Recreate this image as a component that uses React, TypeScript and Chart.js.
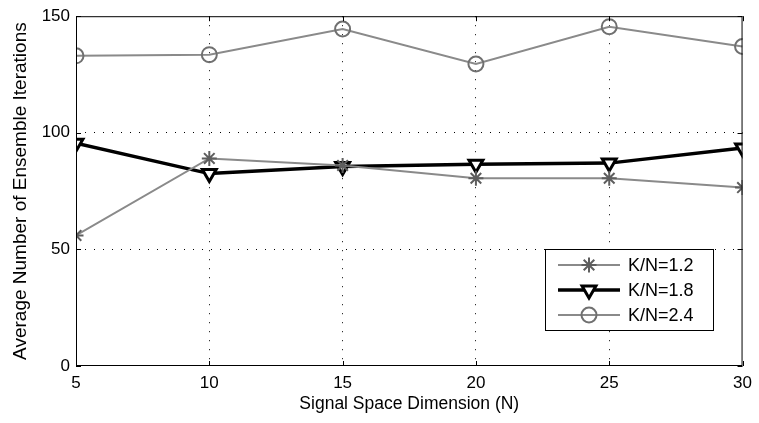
import React, { useEffect, useRef } from "react";
import { Chart, registerables } from "chart.js";
import { drawPoint } from "chart.js/helpers";

Chart.register(...registerables);

const xValues = [5, 10, 15, 20, 25, 30];
const seriesLabels = ["K/N=1.2", "K/N=1.8", "K/N=2.4"];
const kn12 = [56, 89, 86, 80.5, 80.5, 76.5];
const kn18 = [95.5, 82.5, 85.5, 86.5, 87, 93.5];
const kn24 = [133, 133.5, 144.5, 129.5, 145.5, 137];
const yTicks = [0, 50, 100, 150];
const xTitle = "Signal Space Dimension (N)";
const yTitle = "Average Number of Ensemble Iterations";

const FONT = "'Liberation Sans', Arial, sans-serif";

const boxPlugin = {
  id: "matlabBox",
  afterDraw(chart: any) {
    const { ctx, chartArea: a, scales } = chart;
    ctx.save();
    ctx.strokeStyle = "#000";
    ctx.lineWidth = 1;
    ctx.strokeRect(a.left + 0.5, a.top + 0.5, a.right - a.left - 1, a.bottom - a.top - 1);
    const tl = 5;
    ctx.beginPath();
    scales.x.ticks.forEach((t: any) => {
      const px = Math.round(scales.x.getPixelForValue(t.value)) + 0.5;
      ctx.moveTo(px, a.bottom);
      ctx.lineTo(px, a.bottom - tl);
      ctx.moveTo(px, a.top);
      ctx.lineTo(px, a.top + tl);
    });
    scales.y.ticks.forEach((t: any) => {
      const py = Math.round(scales.y.getPixelForValue(t.value)) + 0.5;
      ctx.moveTo(a.left, py);
      ctx.lineTo(a.left + tl, py);
      ctx.moveTo(a.right, py);
      ctx.lineTo(a.right - tl, py);
    });
    ctx.stroke();

    // legend inside the plot area
    const bx = 545, by = 249, bw = 168, bh = 81;
    ctx.fillStyle = "#fff";
    ctx.fillRect(bx, by, bw, bh);
    ctx.strokeStyle = "#000";
    ctx.lineWidth = 1;
    ctx.strokeRect(bx + 0.5, by + 0.5, bw, bh);
    ctx.font = `18px ${FONT}`;
    ctx.textBaseline = "middle";
    ctx.textAlign = "left";
    chart.data.datasets.forEach((ds: any, i: number) => {
      const y = by + 16 + i * 25;
      ctx.strokeStyle = ds.borderColor;
      ctx.lineWidth = ds.borderWidth;
      ctx.beginPath();
      ctx.moveTo(bx + 13, y);
      ctx.lineTo(bx + 75, y);
      ctx.stroke();
      ctx.fillStyle = ds.pointBackgroundColor;
      ctx.strokeStyle = ds.pointBorderColor;
      ctx.lineWidth = ds.pointBorderWidth;
      drawPoint(ctx, {
        pointStyle: ds.pointStyle,
        rotation: ds.pointRotation || 0,
        radius: ds.pointRadius,
        borderWidth: ds.pointBorderWidth,
      } as any, bx + 44, y);
      ctx.fillStyle = "#000";
      ctx.fillText(ds.label, bx + 83, y + 1);
    });
    ctx.restore();
  },
};

export default function App() {
  const ref = useRef<HTMLCanvasElement>(null);
  useEffect(() => {
    if (!ref.current) return;
    const toPts = (arr: number[]) => arr.map((v, i) => ({ x: xValues[i], y: v }));
    const chart = new Chart(ref.current, {
      type: "line",
      data: {
        datasets: [
          {
            label: seriesLabels[0],
            data: toPts(kn12),
            borderColor: "#8a8a8a",
            borderWidth: 2,
            pointStyle: "star",
            pointRadius: 7.5,
            pointBorderColor: "#5e5e5e",
            pointBackgroundColor: "#5e5e5e",
            pointBorderWidth: 2,
          },
          {
            label: seriesLabels[1],
            data: toPts(kn18),
            borderColor: "#000",
            borderWidth: 3.5,
            pointStyle: "triangle",
            pointRotation: 180,
            pointRadius: 8,
            pointBorderColor: "#000",
            pointBackgroundColor: "#fff",
            pointBorderWidth: 3,
          },
          {
            label: seriesLabels[2],
            data: toPts(kn24),
            borderColor: "#8a8a8a",
            borderWidth: 2,
            pointStyle: "circle",
            pointRadius: 7.5,
            pointBorderColor: "#707070",
            pointBackgroundColor: "rgba(255,255,255,0)",
            pointBorderWidth: 2,
          },
        ] as any,
      },
      options: {
        animation: false,
        responsive: true,
        maintainAspectRatio: false,
        layout: { padding: { top: 15, right: 10, left: 0, bottom: 0 } },
        plugins: { legend: { display: false }, tooltip: { enabled: false } },
        scales: {
          x: {
            type: "linear",
            min: 5,
            max: 30,
            afterFit: (s: any) => { s.height = 57; },
            afterBuildTicks: (s: any) => { s.ticks = xValues.map((v) => ({ value: v })); },
            grid: {
              drawTicks: false,
              color: (c: any) => (c.tick && (c.tick.value === 5 || c.tick.value === 30) ? "rgba(0,0,0,0)" : "#000"),
              lineWidth: 1,
            },
            border: { display: false, dash: [1, 8] },
            ticks: { color: "#000", padding: 7, font: { family: FONT, size: 17 } },
            title: {
              display: true,
              text: xTitle,
              color: "#000",
              font: { family: FONT, size: 17.5 },
              padding: { top: 0, bottom: 8 },
            },
          },
          y: {
            min: 0,
            max: 150,
            afterFit: (s: any) => { s.width = 76; },
            afterBuildTicks: (s: any) => { s.ticks = yTicks.map((v) => ({ value: v })); },
            grid: {
              drawTicks: false,
              color: (c: any) => (c.tick && (c.tick.value === 0 || c.tick.value === 150) ? "rgba(0,0,0,0)" : "#000"),
              lineWidth: 1,
            },
            border: { display: false, dash: [1, 8] },
            ticks: { color: "#000", padding: 6, font: { family: FONT, size: 17 } },
            title: {
              display: true,
              text: yTitle,
              color: "#000",
              font: { family: FONT, size: 19 },
              padding: { top: 9, bottom: 0 },
            },
          },
        },
      } as any,
      plugins: [boxPlugin],
    });
    return () => chart.destroy();
  }, []);
  return (
    <div style={{ position: "fixed", left: 0, top: 0, width: 759, height: 423, background: "#fff" }}>
      <canvas ref={ref} />
    </div>
  );
}
